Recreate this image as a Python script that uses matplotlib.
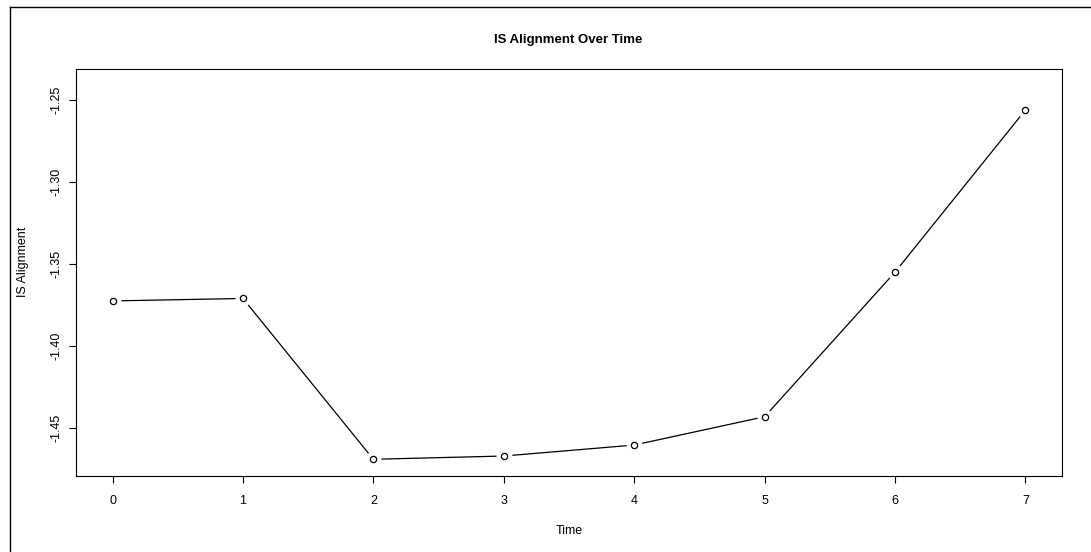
import numpy as np
import matplotlib.pyplot as plt
from matplotlib.lines import Line2D

plt.rcParams['font.family'] = ['Liberation Sans', 'DejaVu Sans']

# values
time = [0, 1, 2, 3, 4, 5, 6, 7]
alignment = [-1.3727, -1.3712, -1.4694, -1.4674, -1.4607, -1.4434, -1.3551, -1.2561]
yticks = [-1.45, -1.40, -1.35, -1.30, -1.25]
ytick_labels = ['-1.45', '-1.40', '-1.35', '-1.30', '-1.25']

W, H = 1091, 552
fig = plt.figure(figsize=(W / 100, H / 100), dpi=100)
ax = fig.add_axes([76 / W, 1 - 476 / H, (1062 - 76) / W, (476 - 69) / H])

# R style type="b": line with gaps round open points
ax.plot(time, alignment, color='black', lw=0.9, zorder=2)
ax.plot(time, alignment, linestyle='none', marker='o', ms=11.5,
        mfc='white', mec='none', zorder=3)
ax.plot(time, alignment, linestyle='none', marker='o', ms=4.5,
        mfc='white', mec='black', mew=0.9, zorder=4)

ax.set_xlim(-0.28, 7.28)
ax.set_ylim(-1.4796, -1.2311)
ax.set_xticks(time)
ax.set_xticklabels([str(t) for t in time])
ax.set_yticks(yticks)
ax.set_yticklabels(ytick_labels, rotation=90, va='center')
ax.tick_params(axis='both', labelsize=9, length=5, width=0.8, color='black')
ax.tick_params(axis='x', pad=9)
ax.tick_params(axis='y', pad=5)
for s in ax.spines.values():
    s.set_linewidth(0.8)
    s.set_color('black')

fig.text(568.5 / W, 1 - 40 / H, 'IS Alignment Over Time', ha='center', va='center',
         fontsize=9.5, fontweight='bold')
fig.text(569 / W, 1 - 531 / H, 'Time', ha='center', va='center', fontsize=9)
fig.text(23 / W, 1 - 262 / H, 'IS Alignment', ha='center', va='center',
         fontsize=9, rotation=90)

# outer device border (left and top visible)
fig.add_artist(Line2D([9.5 / W, 9.5 / W], [0, 1 - 6.5 / H], color='black', lw=1.0))
fig.add_artist(Line2D([9.5 / W, 1], [1 - 6.5 / H, 1 - 6.5 / H], color='black', lw=1.0))

fig.savefig('out.png', dpi=100)
